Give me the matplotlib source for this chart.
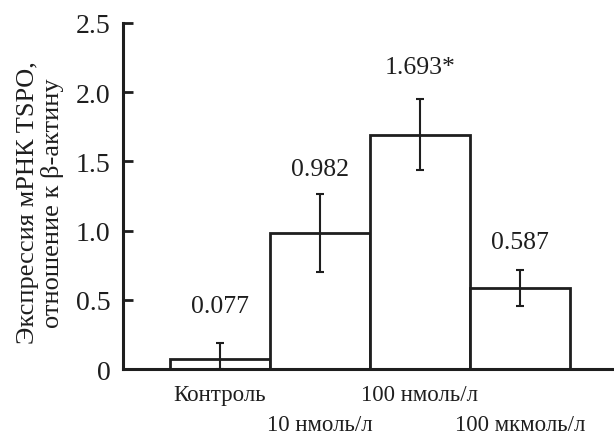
import numpy as np
import matplotlib.pyplot as plt

plt.rcParams['font.family'] = ['Liberation Serif', 'DejaVu Serif']

# данные
groups = ["Контроль", "10 нмоль/л", "100 нмоль/л", "100 мкмоль/л"]
values = np.array([0.077, 0.982, 1.693, 0.587])
errors = np.array([0.11, 0.28, 0.255, 0.13])
labels = ["0.077", "0.982", "1.693*", "0.587"]
label_y = np.array([0.455, 1.445, 2.18, 0.92])
yticks = [0, 0.5, 1.0, 1.5, 2.0, 2.5]
ytick_labels = ["0", "0.5", "1.0", "1.5", "2.0", "2.5"]

ink = '#1e1e1e'

fig = plt.figure(figsize=(6.14, 4.35), dpi=100)
ax = fig.add_axes([0.2003, 0.149, 0.7997, 0.796])

x = np.arange(len(groups))
ax.bar(x, values, width=1.0, color='white', edgecolor=ink, linewidth=2)
low = np.minimum(errors, values)
ax.errorbar(x, values, yerr=[low, errors], fmt='none', ecolor=ink,
            elinewidth=1.5, capsize=3, capthick=1.5)

for xi, yi, t in zip(x, label_y, labels):
    ax.text(xi, yi, t, ha='center', va='center', fontsize=18.5, color=ink)

ax.set_xlim(-0.97, 3.94)
ax.set_ylim(0, 2.5)
ax.set_yticks(yticks)
ax.set_yticklabels(ytick_labels, fontsize=20, color=ink)
ax.tick_params(axis='y', direction='in', length=7, width=2, pad=9, color=ink)

# подписи групп в два ряда
ax.set_xticks([])
for i, g in enumerate(groups):
    off = -18 if i % 2 == 0 else -40
    ax.annotate(g, xy=(x[i], 0), xycoords=('data', 'axes fraction'),
                xytext=(0, off), textcoords='offset points',
                ha='center', va='center', fontsize=16.5, color=ink)

ax.spines['top'].set_visible(False)
ax.spines['right'].set_visible(False)
ax.spines['left'].set_linewidth(2.2)
ax.spines['bottom'].set_linewidth(2.2)
ax.spines['left'].set_color(ink)
ax.spines['bottom'].set_color(ink)

ax.set_ylabel("Экспрессия мРНК TSPO,\nотношение к β-актину", fontsize=19,
              linespacing=1.1, color=ink)
ax.yaxis.set_label_coords(-0.12, 0.483)

fig.savefig("out.png", dpi=100)
